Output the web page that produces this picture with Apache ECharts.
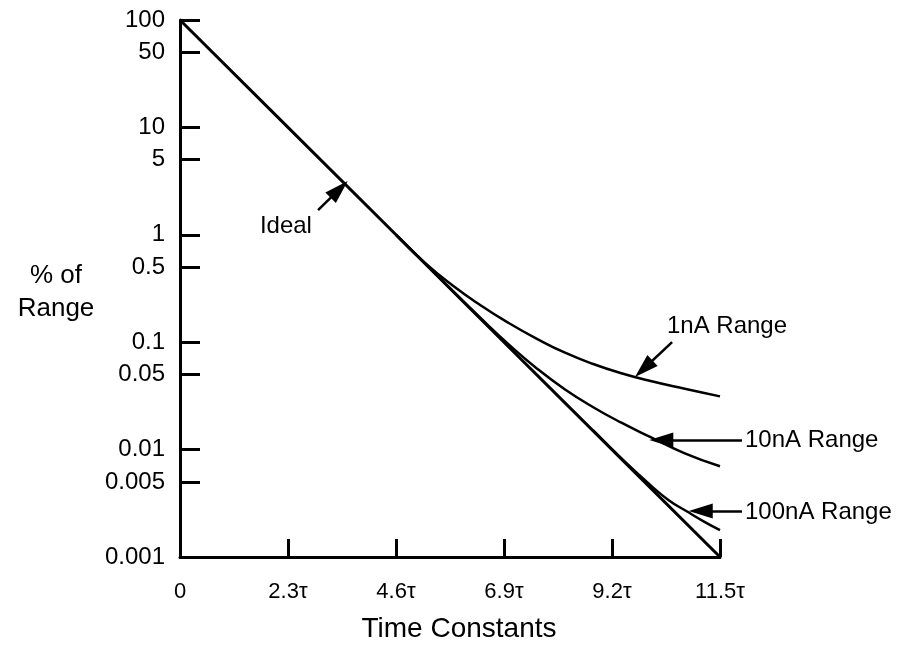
<!DOCTYPE html>
<html>
<head>
<meta charset="utf-8">
<script src="https://cdn.jsdelivr.net/npm/echarts@6/dist/echarts.min.js"></script>
<style>html,body{margin:0;padding:0;background:#fff}#chart{width:898px;height:654px}</style>
</head>
<body>
<div id="chart"></div>
<script>
// ---- data (time in time constants, value in % of range) ----
const idealT = [0, 2.3, 4.6, 6.9, 9.2, 11.5];
const idealV = [100, 10, 1, 0.1, 0.01, 0.001];

const oneNaT = [4.6, 5.2, 5.8, 6.4, 7.0, 7.6, 8.2, 8.8, 9.4, 10.0, 10.75, 11.5];
const oneNaV = [1.0, 0.556, 0.339, 0.221, 0.151, 0.1076, 0.0798, 0.0627, 0.0514, 0.0437, 0.0368, 0.0313];

const tenNaT = [4.6, 5.2, 5.8, 6.4, 7.0, 7.6, 8.2, 8.8, 9.4, 10.0, 10.75, 11.5];
const tenNaV = [1.0, 0.552, 0.303, 0.168, 0.0955, 0.0569, 0.0363, 0.0248, 0.0178, 0.0132, 0.00923, 0.0070];

const hundredNaT = [8.8, 9.4, 10.0, 10.4, 10.8, 11.15, 11.5];
const hundredNaV = [0.0151, 0.00827, 0.00475, 0.0034, 0.00265, 0.00215, 0.00178];

const yTicks = [0.001, 0.005, 0.01, 0.05, 0.1, 0.5, 1, 5, 10, 50, 100];
const xTicks = [0, 2.3, 4.6, 6.9, 9.2, 11.5];

const FONT = 'Liberation Sans, Arial, Helvetica, sans-serif';
const pairs = (ts, vs) => ts.map((t, i) => [t, vs[i]]);

const arrowStyle = { color: '#000', width: 2.5, type: 'solid' };
const labelStyle = { color: '#000', fontSize: 24, fontFamily: FONT };

function note(text, where, align) {
  return Object.assign({
    symbol: 'circle',
    symbolSize: 0,
    label: Object.assign({
      show: true, formatter: text, position: [0, 0],
      align: align, verticalAlign: 'middle'
    }, labelStyle)
  }, where);
}

const chart = echarts.init(document.getElementById('chart'), null, { renderer: 'canvas' });
chart.setOption({
  backgroundColor: '#fff',
  animation: false,
  title: {
    text: '% of\nRange', left: 56, top: 259, padding: 0, textAlign: 'center',
    textStyle: { color: '#000', fontSize: 26, fontWeight: 'normal', fontFamily: FONT, lineHeight: 33, align: 'center' }
  },
  grid: { left: 180, right: 178, top: 20, bottom: 97, containLabel: false },
  xAxis: {
    type: 'value', min: 0, max: 11.5,
    name: 'Time Constants', nameLocation: 'middle', nameGap: 58,
    nameTextStyle: { color: '#000', fontSize: 28, fontFamily: FONT, padding: [0, 0, 0, 18] },
    axisLine: { show: true, onZero: false, lineStyle: { color: '#000', width: 3 } },
    axisTick: { show: true, inside: true, length: 18, lineStyle: { color: '#000', width: 3 }, customValues: xTicks },
    axisLabel: {
      color: '#000', fontSize: 22, fontFamily: FONT, margin: 24, customValues: xTicks,
      formatter: v => (Math.abs(v) < 1e-9 ? '0' : v.toFixed(1) + 'τ')
    },
    splitLine: { show: false }
  },
  yAxis: {
    type: 'log', logBase: 10, min: 0.001, max: 100,
    axisLine: { show: true, lineStyle: { color: '#000', width: 3 } },
    axisTick: { show: true, inside: true, length: 20, lineStyle: { color: '#000', width: 3 }, customValues: yTicks },
    axisLabel: {
      color: '#000', fontSize: 24, fontFamily: FONT, margin: 15, customValues: yTicks,
      formatter: v => String(Number(Number(v).toPrecision(3)))
    },
    splitLine: { show: false },
    minorTick: { show: false }
  },
  series: [
    {
      name: 'Ideal', type: 'line', data: pairs(idealT, idealV), symbol: 'none',
      lineStyle: { color: '#000', width: 3 }, clip: false, z: 3,
      markLine: {
        silent: true, symbol: ['none', 'triangle'], symbolSize: [15, 24],
        lineStyle: arrowStyle, label: { show: false },
        data: [
          [{ coord: [2.94, 1.70] }, { coord: [3.39, 2.65] }],
          [{ coord: [10.48, 0.1] }, { coord: [9.876, 0.0566] }],
          [{ x: 742, y: 440 }, { coord: [10.25, 0.01228] }],
          [{ x: 742, y: 511 }, { coord: [11.09, 0.00268] }]
        ]
      },
      markPoint: {
        silent: true,
        data: [
          note('Ideal', { coord: [2.81, 1.21] }, 'right'),
          note('1nA Range', { coord: [10.37, 0.1416] }, 'left'),
          note('10nA Range', { x: 745, y: 440 }, 'left'),
          note('100nA Range', { x: 745, y: 512 }, 'left')
        ]
      }
    },
    {
      name: '1nA Range', type: 'line', data: pairs(oneNaT, oneNaV), symbol: 'none', smooth: 0.5,
      lineStyle: { color: '#000', width: 2.5 }
    },
    {
      name: '10nA Range', type: 'line', data: pairs(tenNaT, tenNaV), symbol: 'none', smooth: 0.5,
      lineStyle: { color: '#000', width: 2.5 }
    },
    {
      name: '100nA Range', type: 'line', data: pairs(hundredNaT, hundredNaV), symbol: 'none', smooth: 0.5,
      lineStyle: { color: '#000', width: 2.5 }
    }
  ]
});
</script>
</body>
</html>
